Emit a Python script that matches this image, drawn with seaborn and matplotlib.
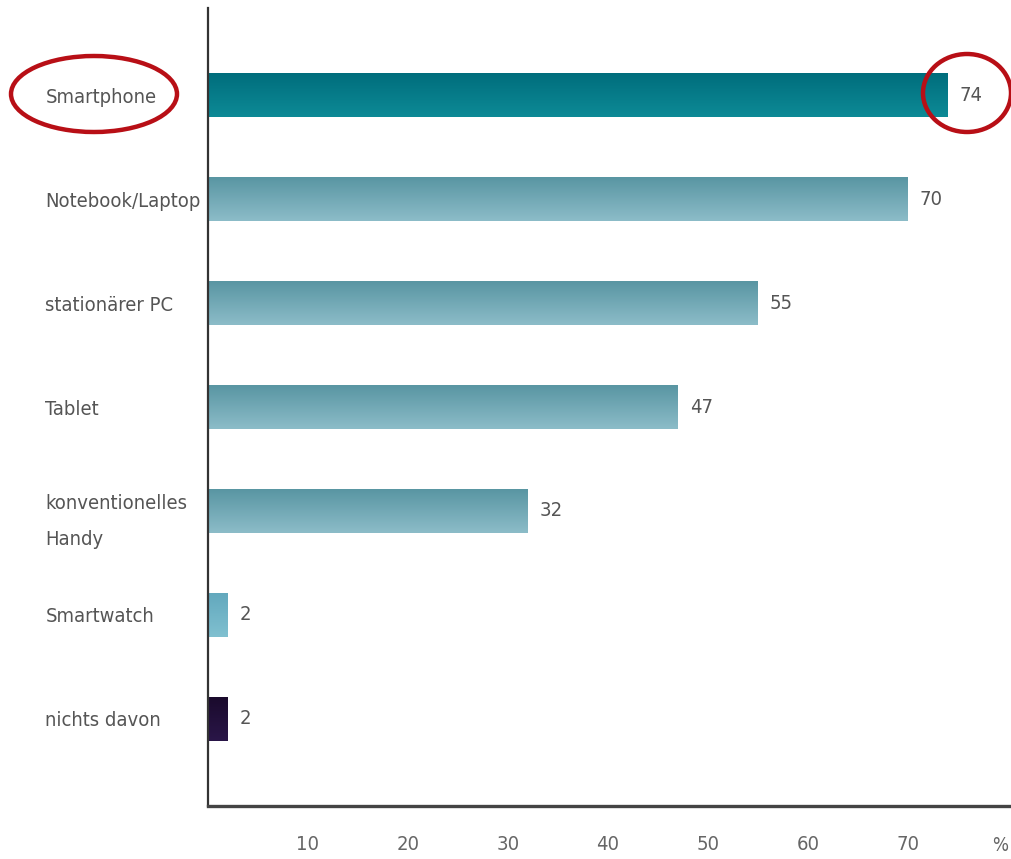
import numpy as np
import pandas as pd
import matplotlib
matplotlib.use("Agg")
import matplotlib.pyplot as plt
import matplotlib.font_manager as fm
from matplotlib.colors import to_rgb
from matplotlib.patches import Ellipse
import seaborn as sns

# Geräte-Nutzung in Prozent
categories = ["Smartphone", "Notebook/Laptop", "stationärer PC", "Tablet",
              "konventionelles\nHandy", "Smartwatch", "nichts davon"]
values = [74, 70, 55, 47, 32, 2, 2]
x_ticks = [10, 20, 30, 40, 50, 60, 70]

# Farbverlauf je Balken: (oben, unten)
grad_top = ["#006d7c", "#5895a2", "#5895a2", "#5895a2", "#5895a2", "#62a8bd", "#1a0a2c"]
grad_bottom = ["#0d8a96", "#8cbcc8", "#8cbcc8", "#8cbcc8", "#8cbcc8", "#80c0d0", "#2a1648"]

sns.set_theme(style="white")

# Schmale Schrift bevorzugen, falls vorhanden
narrow = [f for f in fm.fontManager.ttflist
          if f.stretch in ("condensed", "semi-condensed", "extra-condensed", "ultra-condensed")
          or "Narrow" in f.name or "Condensed" in f.name]
if narrow:
    plt.rcParams["font.family"] = [narrow[0].name, "DejaVu Sans"]
    plt.rcParams["font.stretch"] = narrow[0].stretch
    plt.rcParams["font.weight"] = "normal"
    FS = 14.5
else:
    plt.rcParams["font.family"] = ["Roboto", "DejaVu Sans"]
    plt.rcParams["font.weight"] = "light"
    FS = 13.5

df = pd.DataFrame({"Gerät": categories, "Anteil": values})

fig = plt.figure(figsize=(10.12, 8.59), dpi=100)
W, H = 1012, 859
ax = fig.add_axes([208 / W, 1 - 806 / H, (1010 - 208) / W, (806 - 8) / H])

sns.barplot(data=df, x="Anteil", y="Gerät", hue="Gerät", palette=grad_top,
            orient="h", width=0.43, legend=False, ax=ax, saturation=1)

ax.set_xlim(0, 80.2)
ax.set_ylim(6.837, -0.837)

# Vertikaler Farbverlauf in jedem Balken
for patch, c0, c1 in zip(ax.patches, grad_top, grad_bottom):
    x0, y0 = patch.get_x(), patch.get_y()
    w, h = patch.get_width(), patch.get_height()
    t = np.linspace(0, 1, 64)[:, None, None]
    img = (1 - t) * np.array(to_rgb(c0)) + t * np.array(to_rgb(c1))
    im = ax.imshow(img, extent=[x0, x0 + w, y0 + h, y0], aspect="auto",
                   zorder=patch.get_zorder() + 0.1, interpolation="bilinear")
    im.set_clip_path(patch)
    patch.set_edgecolor("none")

# Werte neben den Balken
for i, v in enumerate(values):
    ax.text(v + 1.2, i, str(v), va="center", ha="left", fontsize=FS, color="#555555")

# Achsen
for s in ["top", "right"]:
    ax.spines[s].set_visible(False)
ax.spines["left"].set_color("#333333")
ax.spines["left"].set_linewidth(1.6)
ax.spines["bottom"].set_color("#444444")
ax.spines["bottom"].set_linewidth(2.4)

ax.set_xticks(x_ticks)
ax.set_xticklabels([str(t) for t in x_ticks])
ax.tick_params(axis="x", direction="in", length=14, width=1.0, color="#333333",
               pad=21, labelsize=FS, labelcolor="#666666")
ax.text(79.2, -0.037, "%", transform=ax.get_xaxis_transform(), ha="center",
        va="top", fontsize=FS - 1, color="#666666")

ax.tick_params(axis="y", length=0, pad=117, labelsize=FS, labelcolor="#555555")
for lab in ax.get_yticklabels():
    lab.set_horizontalalignment("left")
    lab.set_linespacing(2.15)

ax.set_xlabel("")
ax.set_ylabel("")
ax.grid(False)

# Hervorhebung Smartphone
def fig_ellipse(cx, cy, w, h):
    e = Ellipse((cx / W, 1 - cy / H), w / W, h / H, transform=fig.transFigure,
                fill=False, edgecolor="#b80f16", linewidth=3.2, zorder=10)
    fig.add_artist(e)

fig_ellipse(94, 94, 166, 76)
fig_ellipse(967, 93, 88, 78)

fig.savefig("out.png", dpi=100)
